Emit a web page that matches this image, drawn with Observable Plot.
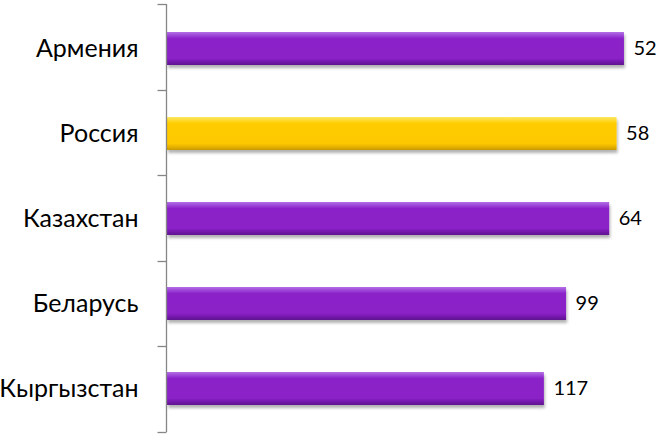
<!DOCTYPE html>
<html>
<head>
<meta charset="utf-8">
<script src="https://cdn.jsdelivr.net/npm/d3@7"></script>
<script src="https://cdn.jsdelivr.net/npm/@observablehq/plot@0.6"></script>
<style>
  html, body { margin: 0; padding: 0; background: #fff; }
</style>
</head>
<body>
<div id="chart"></div>
<script>
// Countries, top to bottom, and their values
const countries = ["Армения", "Россия", "Казахстан", "Беларусь", "Кыргызстан"];
const values = [52, 58, 64, 99, 117];
const highlighted = "Россия";
// Value at which the reversed axis starts (left edge of the bars)
const axisStart = 423;

const data = countries.map((country, i) => ({country, value: values[i]}));

// Gradients and shadow for the bevelled bars
function defs() {
  const svg = d3.create("svg:defs");
  const grad = (id, stops) => {
    const g = svg.append("linearGradient").attr("id", id)
      .attr("x1", 0).attr("y1", 0).attr("x2", 0).attr("y2", 1);
    for (const [o, c] of stops) g.append("stop").attr("offset", o).attr("stop-color", c);
  };
  grad("violet", [[0, "#b270e4"], [0.12, "#9a3fd6"], [0.2, "#8b22c9"], [0.8, "#8a21c7"], [0.9, "#7419ab"], [1, "#5e1290"]]);
  grad("gold", [[0, "#ffe766"], [0.12, "#ffd824"], [0.2, "#ffcc00"], [0.8, "#fdc800"], [0.9, "#e8b300"], [1, "#c99a00"]]);
  const f = svg.append("filter").attr("id", "barShadow")
    .attr("x", "-5%").attr("y", "-20%").attr("width", "110%").attr("height", "160%");
  f.append("feDropShadow").attr("dx", 1).attr("dy", 3).attr("stdDeviation", 1.8)
    .attr("flood-color", "#000").attr("flood-opacity", 0.3);
  return svg.node();
}

// Category axis line with tick marks between the categories
function categoryAxis(index, scales, channels, dims) {
  const g = d3.create("svg:g").attr("stroke", "#868686").attr("stroke-width", 1.3);
  const x0 = Math.round(scales.x(axisStart)) - 0.5;
  const top = dims.marginTop, bottom = dims.height - dims.marginBottom;
  const step = (bottom - top) / countries.length;
  g.append("line").attr("x1", x0).attr("x2", x0).attr("y1", top).attr("y2", bottom);
  for (let i = 0; i <= countries.length; ++i) {
    const y = Math.round(top + i * step) + 0.5;
    g.append("line").attr("x1", x0 - 9).attr("x2", x0).attr("y1", y).attr("y2", y);
  }
  return g.node();
}

const chart = Plot.plot({
  width: 661,
  height: 445,
  marginTop: 4,
  marginBottom: 13,
  marginLeft: 167,
  marginRight: 0,
  style: {fontFamily: "Lato, 'Open Sans', sans-serif", color: "#000", background: "#fff"},
  x: {domain: [axisStart, 0], range: [167, 688], axis: null},
  y: {domain: countries, paddingInner: 0.614, paddingOuter: 0.307, label: null},
  marks: [
    defs,
    Plot.axisY({tickSize: 0, tickPadding: 29, fontSize: 25, label: null}),
    Plot.barX(data.filter(d => d.country !== highlighted),
      {y: "country", x1: axisStart, x2: "value", fill: "url(#violet)"}),
    Plot.barX(data.filter(d => d.country === highlighted),
      {y: "country", x1: axisStart, x2: "value", fill: "url(#gold)"}),
    categoryAxis,
    Plot.text(data, {y: "country", x: "value", text: d => String(d.value), dx: 9,
      textAnchor: "start", fontSize: 20, fill: "#000"})
  ]
});

// Soft drop shadow under the bars
d3.select(chart).selectAll('g[aria-label="bar"]').attr("filter", "url(#barShadow)");

document.getElementById("chart").appendChild(chart);
</script>
</body>
</html>
